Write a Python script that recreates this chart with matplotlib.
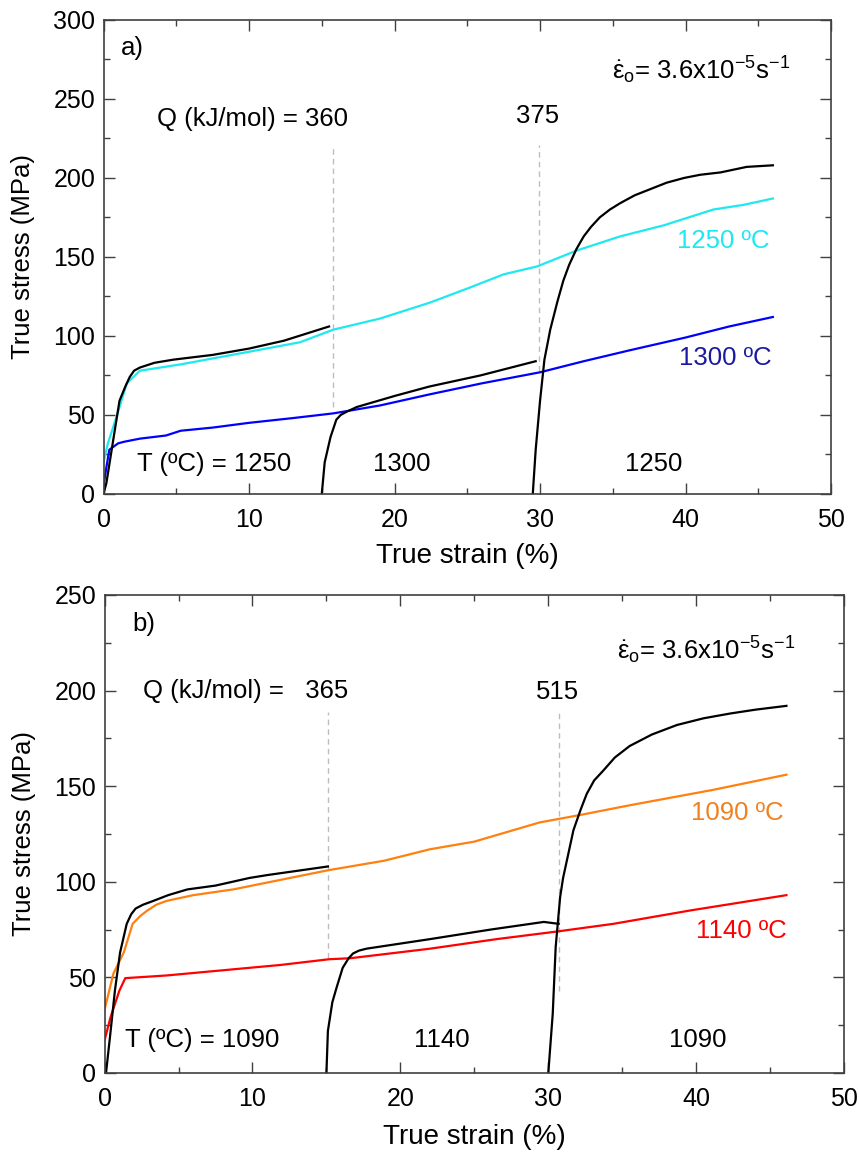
import matplotlib
matplotlib.use("Agg")
import matplotlib.pyplot as plt
from matplotlib.ticker import MultipleLocator

plt.rcParams['font.family'] = ['Liberation Sans', 'DejaVu Sans']
plt.rcParams['mathtext.fontset'] = 'custom'
plt.rcParams['mathtext.rm'] = 'Liberation Sans'
plt.rcParams['mathtext.it'] = 'Liberation Sans'

# ---- panel a) data (strain %, stress MPa) ----
cyan_x = [0, 0.3, 0.9, 1.6, 2.5, 5.3, 10, 13.5, 15.8, 19, 22.4, 25, 27.5, 29.8, 32.5, 35.5, 38.5, 41.9, 44, 46]
cyan_y = [20, 32, 49, 70, 78, 82, 90, 96, 104, 111, 121, 130, 139, 144, 154, 163, 170, 180, 183, 187]
blue_x = [0, 0.2, 0.4, 1.0, 1.4, 2.5, 4.3, 5.3, 7.5, 10, 13, 15.8, 19, 22.4, 26, 30, 33, 36.2, 40, 43, 46]
blue_y = [5, 17, 28, 32, 33, 35, 37, 40, 42, 45, 48, 51, 56, 63, 70, 77, 84, 91, 99, 106, 112]
a_blk1_x = [0, 0.2, 0.7, 1.1, 1.5, 1.8, 2.1, 2.5, 3.5, 4.8, 7.5, 10, 12.4, 15.5]
a_blk1_y = [0, 7, 36, 59, 68, 74, 78, 80, 83, 85, 88, 92, 97, 106]
a_blk2_x = [15.0, 15.2, 15.6, 16.0, 16.3, 16.7, 17.4, 20, 22.4, 25.9, 29.7]
a_blk2_y = [0, 20, 36, 47, 50, 52, 55, 62, 68, 75, 84]
a_blk3_x = [29.5, 29.7, 30.0, 30.3, 30.7, 31.2, 31.6, 32.0, 32.5, 33.0, 33.5, 34.1, 34.8, 35.5,
            36.5, 37.6, 38.7, 39.9, 41.0, 42.4, 44.2, 46]
a_blk3_y = [0, 28, 59, 85, 104, 122, 135, 145, 155, 163, 169, 175, 180, 184,
            189, 193, 197, 200, 202, 203.5, 207, 208]
a_dash_x = [15.8, 29.9]
a_dash_lo = [55, 78]
a_dash_hi = [219, 221]

# ---- panel b) data ----
orange_x = [0, 0.6, 1.3, 1.9, 2.4, 2.9, 3.5, 4.2, 6, 8.7, 11.9, 15.1, 18.9, 22, 25, 29.4, 32.2, 35.5, 41.1, 46.1]
orange_y = [33, 52, 63, 78, 82, 85, 88, 90, 93, 96, 101, 106, 111, 117, 121, 131, 135, 140, 148, 156]
red_x = [0, 0.4, 1.0, 1.4, 4.2, 9.8, 11.9, 15.2, 16.6, 22, 26.5, 30.6, 34.4, 39.6, 46.1]
red_y = [17, 29, 43, 49.6, 51, 55, 56.5, 59.5, 60, 65, 70, 74, 78, 85, 93]
b_blk1_x = [0.1, 0.37, 0.7, 1.05, 1.5, 1.8, 2.1, 2.6, 3.3, 4.3, 5.6, 7.5, 9.8, 11, 15.1]
b_blk1_y = [0, 19, 43, 63, 78, 83, 86, 88, 90, 93, 96, 98, 102, 103.5, 108]
b_blk2_x = [15.0, 15.1, 15.4, 15.7, 16.1, 16.5, 16.8, 17.2, 17.7, 22, 26.1, 29.7, 30.7]
b_blk2_y = [0, 22, 37, 45, 55, 60, 62.5, 64, 65, 70, 75, 79, 78]
b_blk3_x = [30.0, 30.3, 30.5, 30.8, 31.0, 31.7, 32.2, 32.6, 33.1, 33.7, 34.5, 35.5, 37.0,
            38.7, 40.5, 42.3, 44.0, 46.1]
b_blk3_y = [0, 31, 66, 92, 102, 127, 138, 146, 153, 158, 165, 171, 177,
            182, 185.5, 188, 190, 192]
b_dash_x = [15.1, 30.7]
b_dash_lo = [60, 43]
b_dash_hi = [189, 190]

rate = r'$\dot{\varepsilon}_\mathrm{o}$= 3.6x10$^{-5}$s$^{-1}$'
FS = 18.5


def style(ax, ymax, yl_x, xl_y):
    ax.set_xlim(0, 50)
    ax.set_ylim(0, ymax)
    ax.xaxis.set_major_locator(MultipleLocator(10))
    ax.xaxis.set_minor_locator(MultipleLocator(5))
    ax.yaxis.set_major_locator(MultipleLocator(50))
    ax.yaxis.set_minor_locator(MultipleLocator(25))
    ax.tick_params(which='both', direction='in', top=True, right=True,
                   labelsize=18, color='#404040', width=1)
    ax.tick_params(which='major', length=8)
    ax.tick_params(which='minor', length=4)
    ax.tick_params(axis='x', which='major', pad=10)
    ax.tick_params(axis='y', which='major', pad=6)
    for s in ax.spines.values():
        s.set_color('#404040')
        s.set_linewidth(1.2)
    ax.set_xlabel('True strain (%)', fontsize=20)
    ax.set_ylabel('True stress (MPa)', fontsize=18.5)
    ax.yaxis.set_label_coords(yl_x, 0.5)
    ax.xaxis.set_label_coords(0.5, xl_y)


fig = plt.figure(figsize=(8.59, 11.53), dpi=100)

# panel a
ax1 = fig.add_axes([0.1205, 0.5716, 0.847, 0.4111])
ax1.vlines(a_dash_x, a_dash_lo, a_dash_hi, colors='#bdbdbd', linestyles=(0, (4, 3)), lw=1)
ax1.plot(cyan_x, cyan_y, color='#1ee8f0', lw=1.6)
ax1.plot(blue_x, blue_y, color='#0000ff', lw=1.6)
ax1.plot(a_blk1_x, a_blk1_y, color='black', lw=1.6)
ax1.plot(a_blk2_x, a_blk2_y, color='black', lw=1.6)
ax1.plot(a_blk3_x, a_blk3_y, color='black', lw=1.6)
style(ax1, 300, -0.094, -0.103)
ax1.text(1.2, 282, 'a)', fontsize=FS, va='center')
ax1.text(3.7, 237, 'Q (kJ/mol) = 360', fontsize=FS, va='center')
ax1.text(29.8, 239, '375', fontsize=FS, va='center', ha='center')
ax1.text(47.2, 268, rate, fontsize=FS, va='center', ha='right')
ax1.text(45.8, 160, '1250 ºC', fontsize=FS, va='center', ha='right', color='#1ee8f0')
ax1.text(45.9, 86, '1300 ºC', fontsize=FS, va='center', ha='right', color='#1a1aa0')
ax1.text(2.3, 19, 'T (ºC) = 1250', fontsize=FS, va='center')
ax1.text(20.5, 19, '1300', fontsize=FS, va='center', ha='center')
ax1.text(37.8, 19, '1250', fontsize=FS, va='center', ha='center')

# panel b
ax2 = fig.add_axes([0.1217, 0.0694, 0.861, 0.4146])
ax2.vlines(b_dash_x, b_dash_lo, b_dash_hi, colors='#bdbdbd', linestyles=(0, (4, 3)), lw=1)
ax2.plot(orange_x, orange_y, color='#ff8010', lw=1.6)
ax2.plot(red_x, red_y, color='#ff0000', lw=1.6)
ax2.plot(b_blk1_x, b_blk1_y, color='black', lw=1.6)
ax2.plot(b_blk2_x, b_blk2_y, color='black', lw=1.6)
ax2.plot(b_blk3_x, b_blk3_y, color='black', lw=1.6)
style(ax2, 250, -0.093, -0.107)
ax2.text(1.9, 235, 'b)', fontsize=FS, va='center')
ax2.text(2.6, 200, 'Q (kJ/mol) =   365', fontsize=FS, va='center')
ax2.text(30.6, 199, '515', fontsize=FS, va='center', ha='center')
ax2.text(46.7, 221, rate, fontsize=FS, va='center', ha='right')
ax2.text(45.9, 136, '1090 ºC', fontsize=FS, va='center', ha='right', color='#f08020')
ax2.text(46.1, 74, '1140 ºC', fontsize=FS, va='center', ha='right', color='#ff0000')
ax2.text(1.4, 17, 'T (ºC) = 1090', fontsize=FS, va='center')
ax2.text(22.8, 17, '1140', fontsize=FS, va='center', ha='center')
ax2.text(40.1, 17, '1090', fontsize=FS, va='center', ha='center')

fig.savefig('out.png', dpi=100)
